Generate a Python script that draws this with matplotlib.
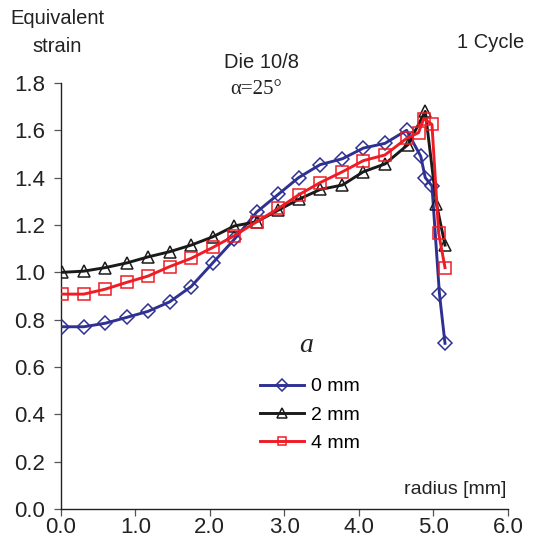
import matplotlib
matplotlib.use("Agg")
import matplotlib.pyplot as plt
from matplotlib.ticker import FormatStrFormatter

plt.rcParams['font.family'] = ['Liberation Sans', 'DejaVu Sans']

# Data
x_0mm = [0.02, 0.31, 0.60, 0.89, 1.17, 1.46, 1.75, 2.04, 2.33, 2.63, 2.92, 3.19,
         3.48, 3.78, 4.06, 4.35, 4.64, 4.83, 4.89, 4.98, 5.08, 5.155]
y_0mm = [0.77, 0.77, 0.785, 0.81, 0.835, 0.875, 0.94, 1.04, 1.14, 1.255, 1.33, 1.40,
         1.455, 1.48, 1.525, 1.545, 1.60, 1.49, 1.40, 1.365, 0.91, 0.70]

x_2mm = [0.02, 0.31, 0.60, 0.89, 1.17, 1.46, 1.75, 2.04, 2.33, 2.63, 2.92, 3.19,
         3.48, 3.78, 4.06, 4.35, 4.66, 4.89, 5.04, 5.155]
y_2mm = [1.00, 1.005, 1.02, 1.04, 1.065, 1.087, 1.115, 1.15, 1.196, 1.214, 1.263, 1.308,
         1.35, 1.369, 1.425, 1.458, 1.54, 1.68, 1.29, 1.115]

x_4mm = [0.02, 0.31, 0.60, 0.89, 1.17, 1.46, 1.75, 2.04, 2.33, 2.63, 2.92, 3.19,
         3.48, 3.78, 4.06, 4.35, 4.64, 4.80, 4.87, 4.98, 5.07, 5.155]
y_4mm = [0.908, 0.908, 0.929, 0.958, 0.984, 1.024, 1.059, 1.105, 1.155, 1.214, 1.27, 1.327,
         1.379, 1.425, 1.472, 1.496, 1.566, 1.59, 1.65, 1.625, 1.165, 1.02]

labels = ["0 mm", "2 mm", "4 mm"]
x_ticks = [0, 1, 2, 3, 4, 5, 6]
y_ticks = [0.0, 0.2, 0.4, 0.6, 0.8, 1.0, 1.2, 1.4, 1.6, 1.8]

W, H = 537, 549
fig = plt.figure(figsize=(W / 100, H / 100), dpi=100)
ax = fig.add_axes([60.7 / W, 1 - 509 / H, (508 - 60.7) / W, (509 - 83) / H])

blue = '#2e3192'
black = '#1a1a1a'
red = '#ee1c25'

ax.plot(x_0mm, y_0mm, color=blue, lw=2.1, marker='D', ms=7.5, mfc='none',
        mec=blue, mew=1.1, label=labels[0], zorder=3)
ax.plot(x_2mm, y_2mm, color=black, lw=2.1, marker='^', ms=9, mfc='none',
        mec=black, mew=1.1, label=labels[1], zorder=4)
ax.plot(x_4mm, y_4mm, color=red, lw=2.1, marker='s', ms=8, mfc='none',
        mec=red, mew=1.1, label=labels[2], zorder=5)

ax.set_xlim(0, 6)
ax.set_ylim(0, 1.8)
ax.set_xticks(x_ticks)
ax.set_yticks(y_ticks)
ax.xaxis.set_major_formatter(FormatStrFormatter('%.1f'))
ax.yaxis.set_major_formatter(FormatStrFormatter('%.1f'))
for s in ['top', 'right']:
    ax.spines[s].set_visible(False)
for s in ['left', 'bottom']:
    ax.spines[s].set_linewidth(1.0)
    ax.spines[s].set_color('#222222')
ax.tick_params(axis='both', direction='out', length=5, width=0.9, color='#555555',
               labelsize=16, labelcolor='#222222')
ax.tick_params(axis='y', pad=6)
ax.tick_params(axis='x', pad=1)

leg = ax.legend(loc='upper left', bbox_to_anchor=(250 / W, 1 - 368 / H),
                bbox_transform=fig.transFigure, frameon=False, fontsize=14,
                handlelength=2.3, handletextpad=0.35, labelspacing=0.55,
                markerscale=0.75, borderpad=0)

fc = '#222222'
fig.text(57 / W, 1 - 18 / H, "Equivalent", ha='center', va='center', fontsize=14.5, color=fc)
fig.text(57 / W, 1 - 46 / H, "strain", ha='center', va='center', fontsize=14.5, color=fc)
fig.text(261 / W, 1 - 63 / H, "Die 10/8", ha='center', va='center', fontsize=14.5, color=fc)
fig.text(256 / W, 1 - 90 / H, "α=25°", ha='center', va='center', fontsize=15,
         family=['Liberation Serif', 'DejaVu Serif'], color=fc)
fig.text(491 / W, 1 - 42 / H, "1 Cycle", ha='center', va='center', fontsize=14.5, color=fc)
fig.text(455 / W, 1 - 490 / H, "radius [mm]", ha='center', va='center', fontsize=14, color=fc)
fig.text(306 / W, 1 - 346 / H, "a", ha='center', va='center', fontsize=20, style='italic',
         family=['Liberation Serif', 'DejaVu Serif'], color=fc)

fig.savefig("out.png", dpi=100)
